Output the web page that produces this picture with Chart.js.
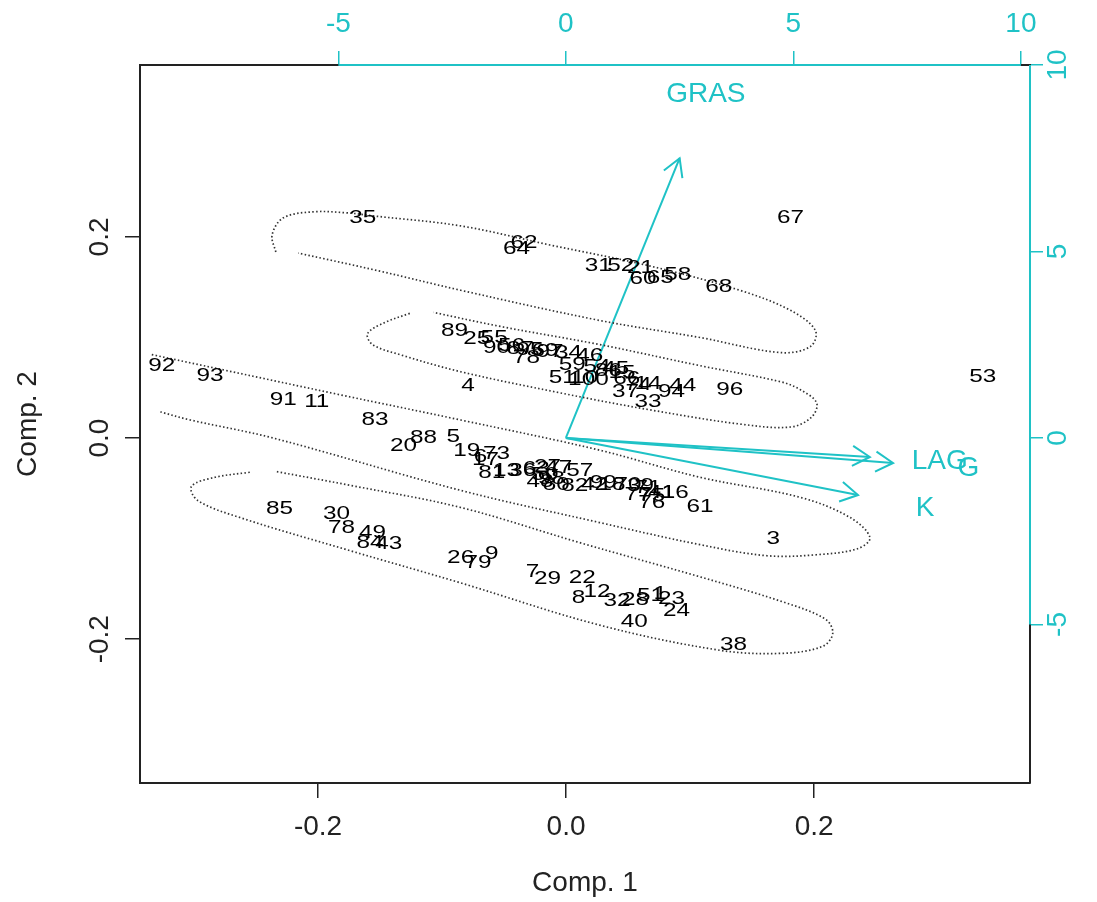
<!DOCTYPE html>
<html>
<head>
<meta charset="utf-8">
<script src="https://cdn.jsdelivr.net/npm/chart.js@4.4.1/dist/chart.umd.min.js"></script>
<style>
html, body { margin: 0; padding: 0; background: #fff; }
</style>
</head>
<body>
<canvas id="biplot" width="1097" height="902"></canvas>
<script>
// observation scores (Comp. 1, Comp. 2) and their labels
const obsLabels = [
    '35','64','62','31','52','21','60','65','58','68','67','53',
    '89','25','55','90','56','87','95','69','97','34','46','78','59','54','51','100','10','86','45','15','66','74','14','37','33','94','44','96','4',
    '92','93','91','11','83','20','88','5','19','6','17','73','81','13','36','63','27','47','57','50','98','48','80','82','42','99','18','70','39','71','77','75','76','41','16','61','3',
    '85','30','78','49','84','43','26','79','9','7','29','22','12','8','32','28','51','1','23','24','40','38'
];
const comp1 = [
    -0.164,-0.040,-0.034,0.026,0.044,0.060,0.062,0.076,0.090,0.123,0.181,0.336,
    -0.090,-0.072,-0.058,-0.056,-0.044,-0.037,-0.029,-0.017,-0.013,0.002,0.019,-0.032,0.005,0.025,-0.003,0.018,0.015,0.034,0.040,0.045,0.049,0.058,0.066,0.048,0.066,0.085,0.094,0.132,-0.079,
    -0.326,-0.287,-0.228,-0.201,-0.154,-0.131,-0.115,-0.091,-0.080,-0.069,-0.065,-0.056,-0.060,-0.048,-0.035,-0.024,-0.015,-0.006,0.011,-0.017,-0.012,-0.021,-0.008,0.007,0.023,0.030,0.037,0.050,0.060,0.066,0.058,0.069,0.069,0.077,0.088,0.108,0.167,
    -0.231,-0.185,-0.181,-0.156,-0.158,-0.143,-0.085,-0.071,-0.060,-0.027,-0.015,0.013,0.025,0.010,0.041,0.056,0.068,0.076,0.085,0.089,0.055,0.135
];
const comp2 = [
    0.219,0.188,0.194,0.171,0.171,0.169,0.158,0.159,0.162,0.150,0.219,0.061,
    0.107,0.099,0.100,0.090,0.092,0.089,0.088,0.087,0.086,0.085,0.082,0.080,0.073,0.071,0.060,0.058,0.060,0.067,0.069,0.065,0.059,0.053,0.054,0.046,0.036,0.046,0.052,0.048,0.052,
    0.072,0.062,0.038,0.036,0.018,-0.008,0.000,0.001,-0.013,-0.019,-0.022,-0.016,-0.034,-0.033,-0.033,-0.031,-0.029,-0.030,-0.033,-0.036,-0.040,-0.043,-0.046,-0.047,-0.046,-0.044,-0.046,-0.046,-0.047,-0.049,-0.056,-0.057,-0.064,-0.054,-0.054,-0.068,-0.100,
    -0.070,-0.075,-0.089,-0.094,-0.104,-0.105,-0.119,-0.124,-0.115,-0.133,-0.140,-0.139,-0.153,-0.159,-0.162,-0.161,-0.157,-0.155,-0.160,-0.172,-0.183,-0.206
];

// dotted contour curves
const curve1X = [-0.234,-0.237,-0.228,-0.204,-0.177,-0.156,-0.085,-0.013,0.068,0.140,0.181,0.201,0.197,0.173,0.108,0.027,-0.085,-0.150,-0.216];
const curve1Y = [0.185,0.202,0.219,0.225,0.224,0.221,0.211,0.192,0.171,0.147,0.127,0.107,0.091,0.085,0.100,0.117,0.147,0.166,0.184];
const curve2X = [-0.126,-0.146,-0.160,-0.156,-0.134,-0.085,-0.005,0.068,0.140,0.181,0.198,0.202,0.189,0.173,0.108,0.027,-0.053,-0.107];
const curve2Y = [0.124,0.115,0.104,0.093,0.083,0.066,0.045,0.028,0.014,0.011,0.021,0.035,0.048,0.056,0.072,0.093,0.111,0.125];
const curve3X = [-0.334,-0.277,-0.182,-0.085,0.027,0.108,0.189,0.229,0.245,0.235,0.202,0.162,0.108,0.027,-0.085,-0.236,-0.303,-0.327];
const curve3Y = [0.083,0.068,0.043,0.018,-0.012,-0.039,-0.059,-0.079,-0.099,-0.110,-0.116,-0.117,-0.106,-0.084,-0.052,0.000,0.018,0.026];
const curve4X = [-0.255,-0.283,-0.302,-0.297,-0.263,-0.174,-0.085,0.027,0.124,0.175,0.207,0.215,0.209,0.175,0.108,0.011,-0.085,-0.174,-0.235];
const curve4Y = [-0.034,-0.039,-0.048,-0.062,-0.079,-0.112,-0.144,-0.186,-0.211,-0.214,-0.207,-0.194,-0.180,-0.163,-0.138,-0.104,-0.069,-0.047,-0.033];

// variable loadings (top / right axes)
const varNames = ['GRAS', 'LAG', 'G', 'K'];
const varX = [2.5, 6.68, 7.19, 6.42];
const varY = [7.5, -0.51, -0.67, -1.53];

// tick labels
const xTicks = [-0.2, 0, 0.2];
const yTicks = [-0.2, 0, 0.2];
const topTicks = [-5, 0, 5, 10];
const rightTicks = [-5, 0, 5, 10];

const teal = '#1fc2c6';
const fontFam = '"Liberation Sans", Arial, Helvetica, sans-serif';

Chart.defaults.font.family = fontFam;

function zip(xs, ys) {
    return xs.map((x, i) => ({ x: x, y: ys[i] }));
}

let datasets = [{
    data: zip(comp1, comp2),
    pointRadius: 0,
    showLine: false
}];

[[curve1X, curve1Y], [curve2X, curve2Y], [curve3X, curve3Y], [curve4X, curve4Y]].forEach(c => {
    datasets.push({
        data: zip(c[0], c[1]),
        showLine: true,
        pointRadius: 0,
        borderColor: '#333',
        borderWidth: 1.7,
        borderDash: [1.5, 2.3],
        tension: 0.35,
        fill: false
    });
});

varNames.forEach((name, i) => {
    datasets.push({
        data: [{ x: 0, y: 0 }, { x: varX[i], y: varY[i] }],
        xAxisID: 'x2',
        yAxisID: 'y2',
        showLine: true,
        pointRadius: 0,
        borderColor: teal,
        borderWidth: 2,
        tension: 0
    });
});

const biplotExtras = {
    id: 'biplotExtras',
    afterDraw(chart) {
        const ctx = chart.ctx;
        const area = chart.chartArea;
        const sy = chart.scales.y;
        const sx2 = chart.scales.x2, sy2 = chart.scales.y2;

        // observation labels
        const meta = chart.getDatasetMeta(0);
        ctx.save();
        ctx.beginPath();
        ctx.rect(area.left, area.top, area.width, area.height);
        ctx.clip();
        ctx.fillStyle = '#000';
        ctx.font = '19px ' + fontFam;
        ctx.textAlign = 'center';
        ctx.textBaseline = 'middle';
        meta.data.forEach((el, i) => {
            ctx.save();
            ctx.translate(el.x, el.y);
            ctx.scale(1.28, 1);
            ctx.fillText(obsLabels[i], 0, 0);
            ctx.restore();
        });
        ctx.restore();

        // arrow heads and variable names
        ctx.save();
        ctx.strokeStyle = teal;
        ctx.fillStyle = teal;
        ctx.lineWidth = 2;
        ctx.font = '28px ' + fontFam;
        ctx.textAlign = 'center';
        ctx.textBaseline = 'middle';
        varNames.forEach((name, i) => {
            const m = chart.getDatasetMeta(5 + i);
            const p0 = m.data[0], p1 = m.data[1];
            const ang = Math.atan2(p1.y - p0.y, p1.x - p0.x);
            const len = 20;
            ctx.beginPath();
            ctx.moveTo(p1.x - len * Math.cos(ang - Math.PI / 6), p1.y - len * Math.sin(ang - Math.PI / 6));
            ctx.lineTo(p1.x, p1.y);
            ctx.lineTo(p1.x - len * Math.cos(ang + Math.PI / 6), p1.y - len * Math.sin(ang + Math.PI / 6));
            ctx.stroke();
            ctx.fillText(name, sx2.getPixelForValue(varX[i] * 1.23), sy2.getPixelForValue(varY[i] * 1.23));
        });

        // teal axis lines for the loadings scales
        ctx.beginPath();
        ctx.moveTo(sx2.getPixelForValue(topTicks[0]), area.top);
        ctx.lineTo(sx2.getPixelForValue(topTicks[topTicks.length - 1]), area.top);
        ctx.moveTo(area.right, sy2.getPixelForValue(rightTicks[0]));
        ctx.lineTo(area.right, sy2.getPixelForValue(rightTicks[rightTicks.length - 1]));
        ctx.stroke();

        // rotated tick labels on the vertical axes
        ctx.font = '28px ' + fontFam;
        ctx.fillStyle = '#222';
        yTicks.forEach(v => {
            ctx.save();
            ctx.translate(100, sy.getPixelForValue(v));
            ctx.rotate(-Math.PI / 2);
            ctx.fillText(v.toFixed(1), 0, 0);
            ctx.restore();
        });
        ctx.fillStyle = teal;
        rightTicks.forEach(v => {
            ctx.save();
            ctx.translate(1058, sy2.getPixelForValue(v));
            ctx.rotate(-Math.PI / 2);
            ctx.fillText(String(v), 0, 0);
            ctx.restore();
        });
        ctx.restore();
    }
};

function setTicks(arr) {
    return function (scale) {
        scale.ticks = arr.map(v => ({ value: v }));
    };
}

new Chart(document.getElementById('biplot').getContext('2d'), {
    type: 'scatter',
    data: { datasets: datasets },
    plugins: [biplotExtras],
    options: {
        responsive: false,
        animation: false,
        devicePixelRatio: 1,
        layout: { padding: 0 },
        plugins: {
            legend: { display: false },
            tooltip: { enabled: false }
        },
        scales: {
            x: {
                type: 'linear',
                position: 'bottom',
                min: -0.3435,
                max: 0.374,
                afterBuildTicks: setTicks(xTicks),
                afterFit: scale => { scale.height = 119; },
                grid: { drawOnChartArea: false, drawTicks: true, tickLength: 15, color: '#222', lineWidth: 1.5 },
                border: { display: true, color: '#222', width: 2 },
                ticks: {
                    autoSkip: false, maxRotation: 0, padding: 12, color: '#222',
                    font: { size: 28 },
                    callback: v => Number(v).toFixed(1)
                },
                title: { display: true, text: 'Comp. 1', color: '#222', font: { size: 28 }, padding: { bottom: 2 } }
            },
            y: {
                type: 'linear',
                position: 'left',
                min: -0.343,
                max: 0.371,
                afterBuildTicks: setTicks(yTicks),
                afterFit: scale => { scale.width = 140; },
                grid: { drawOnChartArea: false, drawTicks: true, tickLength: 15, color: '#222', lineWidth: 1.5 },
                border: { display: true, color: '#222', width: 2 },
                ticks: { display: false },
                title: { display: true, text: 'Comp. 2', color: '#222', font: { size: 28 }, padding: { top: 11 } }
            },
            x2: {
                type: 'linear',
                position: 'top',
                min: -9.36,
                max: 10.2,
                afterBuildTicks: setTicks(topTicks),
                afterFit: scale => { scale.height = 65; },
                grid: { drawOnChartArea: false, drawTicks: true, tickLength: 14, color: teal, lineWidth: 1.5 },
                border: { display: true, color: '#222', width: 2 },
                ticks: {
                    autoSkip: false, maxRotation: 0, padding: 10, color: teal,
                    font: { size: 28 },
                    callback: v => String(v)
                }
            },
            y2: {
                type: 'linear',
                position: 'right',
                min: -9.25,
                max: 10.0,
                afterBuildTicks: setTicks(rightTicks),
                afterFit: scale => { scale.width = 67; },
                grid: { drawOnChartArea: false, drawTicks: true, tickLength: 13, color: teal, lineWidth: 1.5 },
                border: { display: true, color: '#222', width: 2 },
                ticks: { display: false }
            }
        }
    }
});
</script>
</body>
</html>
